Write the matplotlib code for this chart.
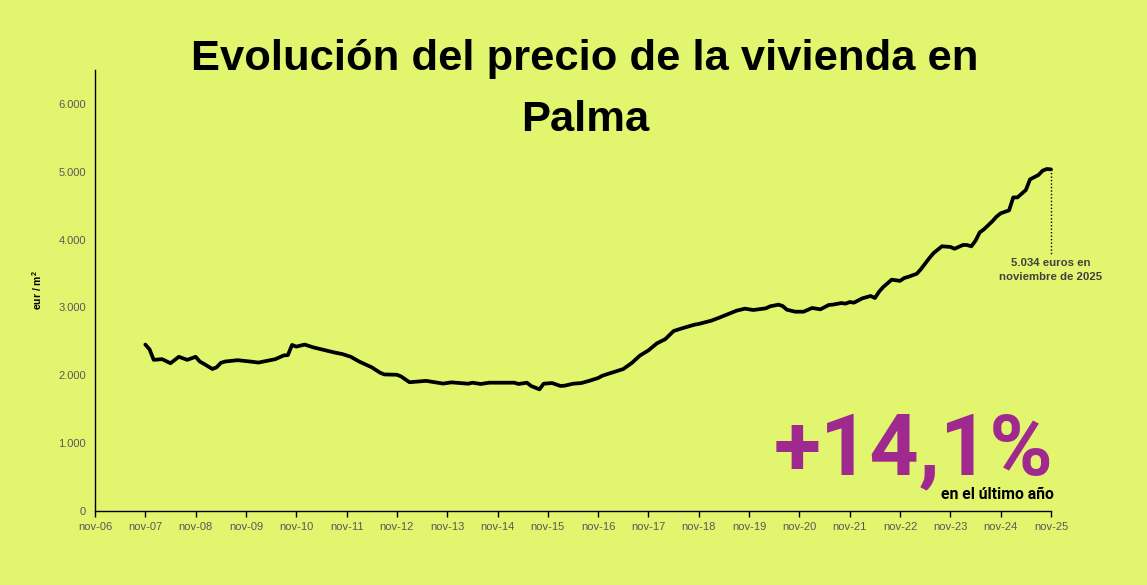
import matplotlib
matplotlib.use("Agg")
import matplotlib.pyplot as plt
from matplotlib.ticker import FuncFormatter, FixedLocator

# ---- data (months since nov-06, value eur/m2) ----
months = [12, 13, 14, 16, 18, 20, 22, 24, 25, 26, 28, 29, 30, 31, 34, 37, 39, 41, 43, 45,
          46, 47, 48, 50, 52, 54, 57, 59, 61, 63, 66, 68, 69, 72, 73, 75, 79, 83, 85, 89,
          90, 92, 94, 100, 101, 103, 104, 106, 107, 109, 111, 112, 114, 116, 118, 120, 121,
          123, 124, 126, 128, 130, 132, 134, 136, 138, 140, 143, 144, 147, 149, 152, 153,
          155, 157, 160, 161, 163, 164, 165, 167, 169, 171, 173, 175, 176, 178, 179, 180,
          181, 183, 185, 186, 187, 188, 190, 192, 193, 194, 196, 197, 199, 200, 202, 204,
          205, 207, 208, 209, 210, 211, 212, 214, 215, 216, 218, 219, 220, 222, 223, 225,
          226, 227, 228]
values = [2450, 2380, 2225, 2235, 2175, 2270, 2225, 2270, 2200, 2165, 2090, 2115, 2180, 2200,
          2220, 2200, 2185, 2210, 2235, 2290, 2295, 2445, 2420, 2450, 2410, 2380, 2335, 2310,
          2270, 2200, 2115, 2035, 2010, 2005, 1980, 1895, 1915, 1875, 1893, 1873, 1888, 1869,
          1888, 1888, 1869, 1888, 1840, 1790, 1873, 1883, 1840, 1844, 1873, 1883, 1918, 1957,
          1991, 2031, 2050, 2090, 2178, 2290, 2365, 2468, 2530, 2650, 2690, 2744, 2755, 2803,
          2850, 2925, 2950, 2980, 2960, 2985, 3014, 3039, 3019, 2965, 2935, 2935, 2990, 2970,
          3034, 3040, 3063, 3054, 3078, 3068, 3132, 3167, 3137, 3230, 3300, 3407, 3390, 3432,
          3450, 3495, 3565, 3727, 3800, 3900, 3890, 3864, 3919, 3919, 3899, 3983, 4105, 4150,
          4268, 4337, 4386, 4430, 4621, 4621, 4730, 4887, 4951, 5015, 5040, 5034]
tick_months = list(range(0, 229, 12))
tick_labels = ["nov-%02d" % y for y in range(6, 26)]
yticks = [0, 1000, 2000, 3000, 4000, 5000, 6000]
last_value = 5034
change_text = "+14,1%"

BG = "#e2f56e"
W, H = 1147, 585

plt.rcParams['font.family'] = ['Liberation Sans', 'DejaVu Sans']
fig = plt.figure(figsize=(W / 100, H / 100), dpi=100, facecolor=BG)

def fx(x):
    return x / W

def fy(y):
    return 1 - y / H

ax = fig.add_axes([fx(95), fy(510.7), fx(1051) - fx(95), (510.7 - 70) / H])
ax.set_facecolor(BG)
ax.plot(months, values, color="black", lw=2.7, solid_joinstyle="round", solid_capstyle="round",
        clip_on=False, zorder=3)
ax.set_xlim(0, 228)
ax.set_ylim(0, 6500)
ax.xaxis.set_major_locator(FixedLocator(tick_months))
ax.set_xticklabels(tick_labels)
ax.set_yticks(yticks)
ax.yaxis.set_major_formatter(FuncFormatter(lambda v, p: "{:,.0f}".format(v).replace(",", ".")))
for s in ["top", "right"]:
    ax.spines[s].set_visible(False)
for s in ["left", "bottom"]:
    ax.spines[s].set_linewidth(1.0)
    ax.spines[s].set_color("black")
ax.tick_params(axis="x", direction="out", length=4, width=1, colors="black",
               labelcolor="#595959", labelsize=8, pad=4)
ax.tick_params(axis="y", length=0, labelcolor="#595959", labelsize=8, pad=6.5)
ax.set_ylabel("eur / m$^{\\mathregular{2}}$", fontsize=7.5, fontweight="bold", labelpad=10)

# dotted leader line from last point
ax.plot([months[-1], months[-1]], [last_value, 3770], color="black", lw=1.0, ls=(0, (1, 1.5)),
        clip_on=False, zorder=2)
ax.annotate("5.034 euros en\nnoviembre de 2025", xy=(months[-1], 3720), ha="center", va="top",
            fontsize=8.2, fontweight="bold", color="#404040", linespacing=1.5,
            annotation_clip=False)

fig.text(fx(585), fy(70), "Evolución del precio de la vivienda en", ha="center", va="baseline",
         fontsize=31.3, fontweight="bold", color="black")
fig.text(fx(585), fy(131), "Palma", ha="center", va="baseline",
         fontsize=31.3, fontweight="bold", color="black")

fig.text(fx(1054), fy(474), change_text, ha="right", va="baseline", fontsize=62,
         fontweight="bold", color="#a0298f", family=['Roboto', 'DejaVu Sans'])
fig.text(fx(1054), fy(499), "en el último año", ha="right", va="baseline", fontsize=11.3,
         fontweight="bold", color="black", family=['Roboto', 'DejaVu Sans'])

fig.savefig("out.png", dpi=100, facecolor=BG)
